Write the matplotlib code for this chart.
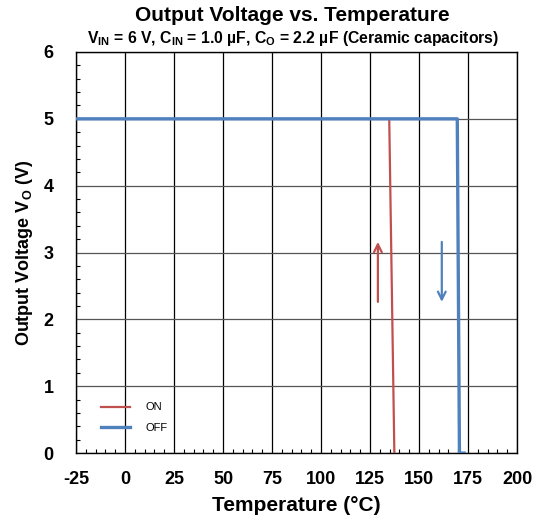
import matplotlib
matplotlib.use('Agg')
import matplotlib.pyplot as plt
from matplotlib.ticker import MultipleLocator

plt.rcParams['font.family'] = ['Liberation Sans', 'DejaVu Sans']
plt.rcParams['font.weight'] = 'bold'
plt.rcParams['axes.unicode_minus'] = False
plt.rcParams['mathtext.fontset'] = 'custom'
plt.rcParams['mathtext.rm'] = 'Liberation Sans:bold'
plt.rcParams['mathtext.it'] = 'Liberation Sans:bold'
plt.rcParams['mathtext.bf'] = 'Liberation Sans:bold'
plt.rcParams['mathtext.default'] = 'rm'

# data
on_temp = [134.8, 137.4]
on_vout = [4.98, 0.0]
off_temp = [-25, 169.5, 170.6, 173]
off_vout = [5.0, 5.0, 0.0, 0.0]

red = '#C0504D'
blue = '#4F81BD'

fig = plt.figure(figsize=(5.34, 5.25), dpi=100)
ax = fig.add_axes([0.1423, 0.137, 0.826, 0.764])

ax.plot(on_temp, on_vout, color=red, lw=1.6, label='ON', zorder=3)
ax.plot(off_temp, off_vout, color=blue, lw=2.4, label='OFF', zorder=4)

# direction arrows
ax.annotate('', xy=(129, 3.2), xytext=(129, 2.22),
            arrowprops=dict(arrowstyle='->', color=red, lw=1.6, mutation_scale=14))
ax.annotate('', xy=(161.6, 2.22), xytext=(161.6, 3.2),
            arrowprops=dict(arrowstyle='->', color=blue, lw=1.6, mutation_scale=14))

ax.set_xlim(-25, 200)
ax.set_ylim(0, 6)
ax.xaxis.set_major_locator(MultipleLocator(25))
ax.xaxis.set_minor_locator(MultipleLocator(5))
ax.yaxis.set_major_locator(MultipleLocator(1))
ax.yaxis.set_minor_locator(MultipleLocator(0.2))
ax.tick_params(which='both', direction='in', labelsize=13)
ax.tick_params(which='major', length=0)
ax.tick_params(axis='x', which='major', pad=13)
ax.tick_params(axis='y', which='major', pad=16)
ax.tick_params(which='minor', length=3, width=0.8)
for lab in ax.get_xticklabels() + ax.get_yticklabels():
    lab.set_fontweight('bold')

ax.grid(axis='x', which='major', color='black', lw=0.9)
ax.grid(axis='y', which='major', color='#555555', lw=0.9)
for s in ax.spines.values():
    s.set_linewidth(1.0)

ax.set_xlabel('Temperature (°C)', fontsize=15, fontweight='bold', labelpad=6)
ax.set_ylabel('Output Voltage V$_{O}$ (V)', fontsize=13, fontweight='bold', labelpad=6)

fig.text(0.548, 0.971, 'Output Voltage vs. Temperature', ha='center', va='center',
         fontsize=15, fontweight='bold')
fig.text(0.548, 0.927, 'V$_{IN}$ = 6 V, C$_{IN}$ = 1.0 µF, C$_{O}$ = 2.2 µF (Ceramic capacitors)',
         ha='center', va='center', fontsize=11.3, fontweight='bold')

leg = ax.legend(loc='lower left', bbox_to_anchor=(0.035, 0.025), frameon=False,
                fontsize=8, handlelength=2.6, handletextpad=1.4, labelspacing=0.95)
for t in leg.get_texts():
    t.set_fontweight('normal')

fig.savefig('out.png', dpi=100)
